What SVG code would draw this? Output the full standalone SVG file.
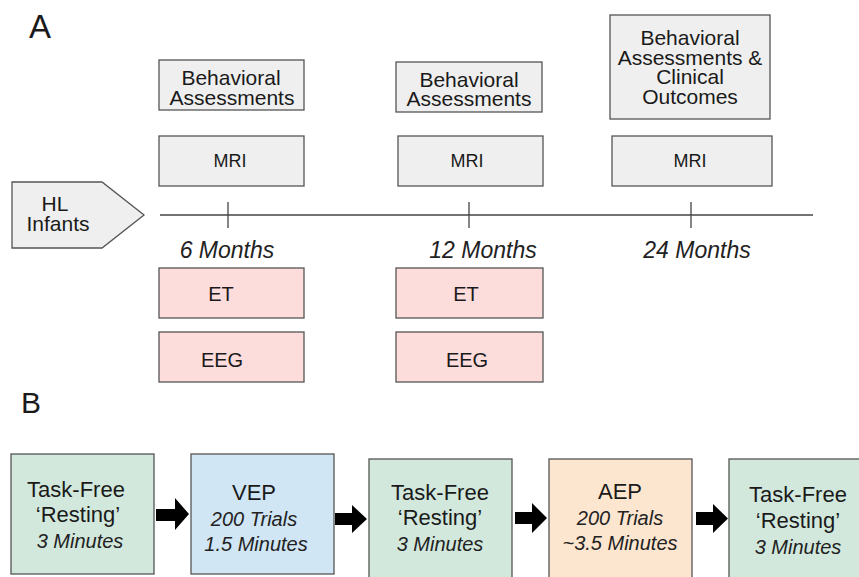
<svg xmlns="http://www.w3.org/2000/svg" width="859" height="577" viewBox="0 0 859 577">
<defs>
<style>
text{font-family:"Liberation Sans",Arial,Helvetica,sans-serif;fill:#1a1a1a;}
.lbl{font-size:33px;}
.t{font-size:21px;text-anchor:middle;}
.m{font-size:18px;text-anchor:middle;}
.e{font-size:20px;text-anchor:middle;}
.mo{font-size:23px;font-style:italic;text-anchor:middle;fill:#222;}
.b{font-size:22px;text-anchor:middle;}
.bi{font-size:20px;font-style:italic;text-anchor:middle;fill:#222;}
.gray{fill:#efefef;stroke:#555;stroke-width:1.3;}
.pink{fill:#fddcdc;stroke:#555;stroke-width:1.3;}
.green{fill:#d3e8dd;stroke:#555;stroke-width:1.3;}
.blue{fill:#d1e6f5;stroke:#555;stroke-width:1.3;}
.orange{fill:#fde6d0;stroke:#555;stroke-width:1.3;}
.line{stroke:#444;stroke-width:1.3;fill:none;}
.arr{fill:#000;}
</style>
</defs>
<text class="lbl" x="29" y="38">A</text>
<text class="lbl" x="21" y="413" style="font-size:30px">B</text>

<g id="hl-infants">
<polygon class="gray" points="12,182 102,182 144,215 102,248 12,248"/>
<text class="t" x="55" y="211">HL</text>
<text class="t" x="58" y="231">Infants</text>
</g>

<g id="connectors">
<line class="line" x1="160" y1="215" x2="813" y2="215"/>
<line class="line" x1="228" y1="202" x2="228" y2="228"/>
<line class="line" x1="469" y1="202" x2="469" y2="228"/>
<line class="line" x1="691" y1="202" x2="691" y2="228"/>
<polygon class="arr" points="156,509 175,509 175,498 189,514 175,530 175,521 156,521"/>
<polygon class="arr" points="335,513 352,513 352,505 367,519 352,533 352,525 335,525"/>
<polygon class="arr" points="515,512 532,512 532,503 547,518 532,533 532,524 515,524"/>
<polygon class="arr" points="696,512 713,512 713,504 728,518.5 713,533 713,525 696,525"/>
</g>

<g id="beh1">
<rect class="gray" x="159" y="60" width="145" height="50"/>
<text class="t" x="231" y="85">Behavioral</text>
<text class="t" x="232" y="105">Assessments</text>
</g>
<g id="beh2">
<rect class="gray" x="396" y="62" width="146" height="50"/>
<text class="t" x="469" y="87">Behavioral</text>
<text class="t" x="469" y="106">Assessments</text>
</g>
<g id="beh3">
<rect class="gray" x="610" y="15" width="160" height="104"/>
<text class="t" x="690" y="45">Behavioral</text>
<text class="t" x="690" y="64.5">Assessments &amp;</text>
<text class="t" x="690" y="84">Clinical</text>
<text class="t" x="690" y="103.5">Outcomes</text>
</g>

<g id="mri1">
<rect class="gray" x="159" y="136" width="145" height="50"/>
<text class="m" x="230" y="167">MRI</text>
</g>
<g id="mri2">
<rect class="gray" x="398" y="136" width="145" height="50"/>
<text class="m" x="467" y="167">MRI</text>
</g>
<g id="mri3">
<rect class="gray" x="612" y="136" width="160" height="50"/>
<text class="m" x="690" y="167">MRI</text>
</g>

<text class="mo" x="227" y="258">6 Months</text>
<text class="mo" x="483" y="258">12 Months</text>
<text class="mo" x="697" y="258">24 Months</text>

<g id="et1">
<rect class="pink" x="159" y="268" width="145" height="50"/>
<text class="e" x="221" y="301">ET</text>
</g>
<g id="eeg1">
<rect class="pink" x="159" y="332" width="145" height="50"/>
<text class="e" x="222" y="367">EEG</text>
</g>
<g id="et2">
<rect class="pink" x="396" y="268" width="147" height="50"/>
<text class="e" x="466" y="301">ET</text>
</g>
<g id="eeg2">
<rect class="pink" x="396" y="332" width="147" height="50"/>
<text class="e" x="467" y="367">EEG</text>
</g>

<g id="rest1">
<rect class="green" x="11" y="454" width="143" height="120"/>
<text class="b" x="76" y="497">Task-Free</text>
<text class="b" x="78" y="522">‘Resting’</text>
<text class="bi" x="80" y="548">3 Minutes</text>
</g>
<g id="vep">
<rect class="blue" x="191" y="454" width="143" height="120"/>
<text class="b" x="254" y="500">VEP</text>
<text class="bi" x="254" y="526">200 Trials</text>
<text class="bi" x="256" y="551">1.5 Minutes</text>
</g>
<g id="rest2">
<rect class="green" x="369" y="459" width="143" height="119"/>
<text class="b" x="440" y="500">Task-Free</text>
<text class="b" x="440" y="525">‘Resting’</text>
<text class="bi" x="440" y="551">3 Minutes</text>
</g>
<g id="aep">
<rect class="orange" x="549" y="459" width="143" height="119"/>
<text class="b" x="620" y="499">AEP</text>
<text class="bi" x="620" y="525">200 Trials</text>
<text class="bi" x="620" y="550">~3.5 Minutes</text>
</g>
<g id="rest3">
<rect class="green" x="729" y="459" width="143" height="119"/>
<text class="b" x="798" y="502">Task-Free</text>
<text class="b" x="798" y="528">‘Resting’</text>
<text class="bi" x="798" y="554">3 Minutes</text>
</g>
</svg>
